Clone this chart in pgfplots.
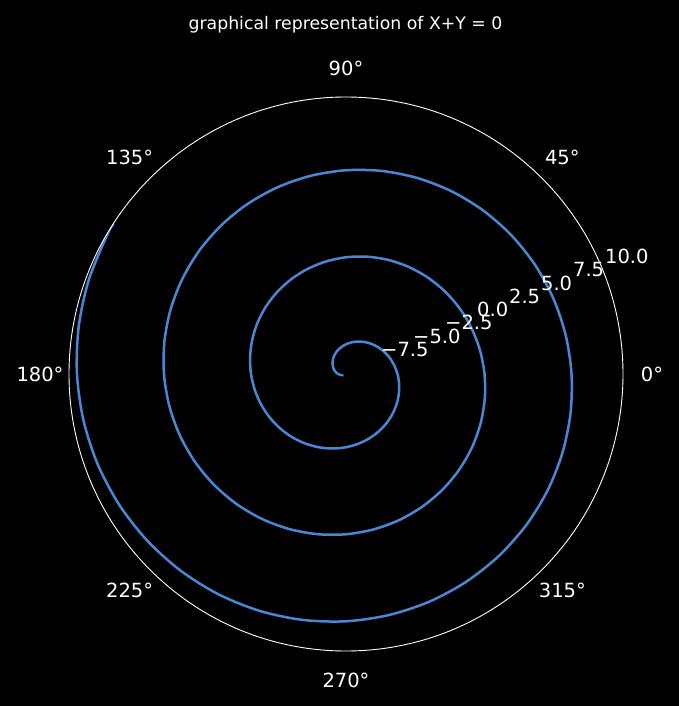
\documentclass[border=0pt]{standalone}
\usepackage{pgfplots}
\pgfplotsset{compat=1.18}
\usepgfplotslibrary{polar}
\usepackage{fontspec}
\setmainfont{DejaVu Sans}
\definecolor{spiral}{RGB}{74,134,212}
\pgfplotstableread{
a r
-572.96 10.000
-570 9.948
-560 9.774
-550 9.599
-540 9.425
-530 9.250
-520 9.076
-510 8.901
-500 8.727
-490 8.552
-480 8.378
-470 8.203
-460 8.029
-450 7.854
-440 7.679
-430 7.505
-420 7.330
-410 7.156
-400 6.981
-390 6.807
-380 6.632
-370 6.458
-360 6.283
-350 6.109
-340 5.934
-330 5.760
-320 5.585
-310 5.411
-300 5.236
-290 5.061
-280 4.887
-270 4.712
-260 4.538
-250 4.363
-240 4.189
-230 4.014
-220 3.840
-210 3.665
-200 3.491
-190 3.316
-180 3.142
-170 2.967
-160 2.793
-150 2.618
-140 2.443
-130 2.269
-120 2.094
-110 1.920
-100 1.745
-90 1.571
-80 1.396
-70 1.222
-60 1.047
-50 0.873
-40 0.698
-30 0.524
-20 0.349
-10 0.175
0 0.000
10 -0.175
20 -0.349
30 -0.524
40 -0.698
50 -0.873
60 -1.047
70 -1.222
80 -1.396
90 -1.571
100 -1.745
110 -1.920
120 -2.094
130 -2.269
140 -2.443
150 -2.618
160 -2.793
170 -2.967
180 -3.142
190 -3.316
200 -3.491
210 -3.665
220 -3.840
230 -4.014
240 -4.189
250 -4.363
260 -4.538
270 -4.712
280 -4.887
290 -5.061
300 -5.236
310 -5.411
320 -5.585
330 -5.760
340 -5.934
350 -6.109
360 -6.283
370 -6.458
380 -6.632
390 -6.807
400 -6.981
410 -7.156
420 -7.330
430 -7.505
440 -7.679
450 -7.854
460 -8.029
470 -8.203
480 -8.378
490 -8.552
500 -8.727
510 -8.901
520 -9.076
530 -9.250
540 -9.425
550 -9.599
560 -9.774
561.50 -9.800
}\spiraldata
\begin{document}
\begin{tikzpicture}
\path[use as bounding box, fill=black] (-346pt,-332pt) rectangle (333pt,374pt);
\begin{polaraxis}[
  at={(0pt,0pt)}, anchor=center,
  scale only axis, width=554pt, height=554pt,
  xmin=0, xmax=360, ymin=0, ymax=20,
  xtick=\empty, ytick=\empty,
  grid=none,
  axis line style={white, line width=0.9pt},
  y axis line style={draw=none},
  axis on top,
  y filter/.expression={y+10},
]
\addplot[spiral, line width=2.5pt, smooth, no markers] table[x=a, y=r] {\spiraldata};
\end{polaraxis}
% angular tick labels
\begin{scope}[every node/.style={text=white, font=\fontsize{19.5}{23}\selectfont, inner sep=0pt, anchor=center}]
\node at (0:306pt) {0°};
\node at (45:306pt) {45°};
\node at (90:306pt) {90°};
\node at (135:306pt) {135°};
\node at (180:306pt) {180°};
\node at (225:306pt) {225°};
\node at (270:306pt) {270°};
\node at (315:306pt) {315°};
\end{scope}
% radial tick labels
\begin{scope}[every node/.style={text=white, font=\fontsize{19.5}{23}\selectfont, inner sep=0pt, anchor=south west, xshift=3pt, yshift=4pt}]
\node at (22.5:34.6pt) {−7.5};
\node at (22.5:69.25pt) {−5.0};
\node at (22.5:103.9pt) {−2.5};
\node at (22.5:138.5pt) {0.0};
\node at (22.5:173.1pt) {2.5};
\node at (22.5:207.75pt) {5.0};
\node at (22.5:242.4pt) {7.5};
\node at (22.5:277pt) {10.0};
\end{scope}
\node[text=white, font=\fontsize{17.3}{20}\selectfont, anchor=base, inner sep=0pt] at (-0.5pt,344pt) {graphical representation of X+Y = 0};
\end{tikzpicture}
\end{document}
